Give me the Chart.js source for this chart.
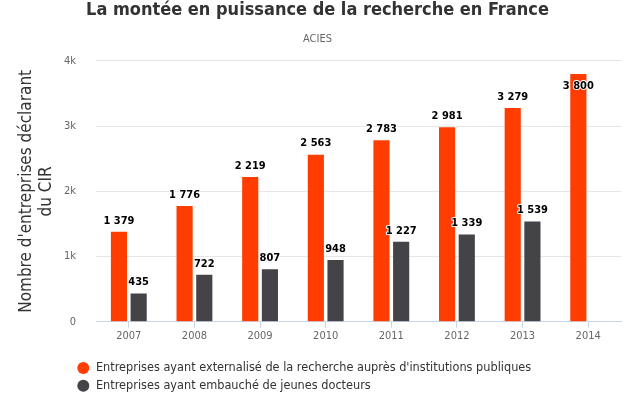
<!DOCTYPE html>
<html><head><meta charset="utf-8">
<script src="https://cdn.jsdelivr.net/npm/chart.js@4/dist/chart.umd.min.js"></script>
<style>html,body{margin:0;padding:0;background:#fff;overflow:hidden}#wrap{width:635px;height:397px;position:relative}</style>
</head><body><div id="wrap"><canvas id="c"></canvas></div>
<script>
const years = ['2007', '2008', '2009', '2010', '2011', '2012', '2013', '2014'];
const externalises = [1379, 1776, 2219, 2563, 2783, 2981, 3279, 3800];
const docteurs = [435, 722, 807, 948, 1227, 1339, 1539, null];
const seriesNames = [
  "Entreprises ayant externalisé de la recherche auprès d'institutions publiques",
  "Entreprises ayant embauché de jeunes docteurs"
];
const yTickLabels = ['0', '1k', '2k', '3k', '4k'];
const titleText = 'La montée en puissance de la recherche en France';
const subtitleText = 'ACIES';
const yTitleLines = ["Nombre d'entreprises déclarant", 'du CIR'];

const FONT = '"DejaVu Sans Condensed", "DejaVu Sans", sans-serif';
const fmt = v => String(v).replace(/\B(?=(\d{3})+(?!\d))/g, ' ');

const dataLabels = {
  id: 'dataLabels',
  afterDatasetsDraw(chart) {
    const ctx = chart.ctx, top = chart.chartArea.top;
    ctx.save();
    ctx.font = 'bold 11px ' + FONT;
    ctx.textAlign = 'center';
    ctx.textBaseline = 'middle';
    ctx.lineJoin = 'round';
    chart.data.datasets.forEach((ds, di) => {
      chart.getDatasetMeta(di).data.forEach((bar, i) => {
        const v = ds.data[i];
        if (v == null) return;
        let y = bar.y - 11;
        if (y - 8 < top) y = bar.y + 12;
        const t = fmt(v);
        ctx.lineWidth = 2; ctx.strokeStyle = '#fff';
        ctx.strokeText(t, bar.x, y);
        ctx.fillStyle = '#000';
        ctx.fillText(t, bar.x, y);
      });
    });
    ctx.restore();
  }
};
const layoutTweak = {
  id: 'layoutTweak',
  afterLayout(chart) {
    const lg = chart.legend;
    lg.left = 72;
    lg.top += 5; lg.bottom += 5;
    chart.boxes.forEach(b => {
      if (b !== lg && b.position === 'top' && !b.axis) { b.left = 0; b.right = chart.width; b.width = chart.width; }
    });
  }
};

new Chart(document.getElementById('c'), {
  type: 'bar',
  data: {
    labels: years,
    datasets: [
      { label: seriesNames[0], data: externalises, backgroundColor: '#ff3d00', borderWidth: 0,
        categoryPercentage: 0.6, barPercentage: 0.82 },
      { label: seriesNames[1], data: docteurs, backgroundColor: '#434348', borderWidth: 0,
        categoryPercentage: 0.6, barPercentage: 0.82 }
    ]
  },
  options: {
    responsive: true, maintainAspectRatio: false, animation: false,
    layout: { padding: { left: 0, right: 14, top: 0, bottom: 0 } },
    plugins: {
      tooltip: { enabled: false },
      title: { display: true, text: titleText, color: '#333333',
        font: { family: FONT, size: 18, weight: 'bold', lineHeight: 1.15 },
        padding: { top: 0, bottom: 12 } },
      subtitle: { display: true, text: subtitleText, color: '#666666',
        font: { family: FONT, size: 11, lineHeight: 1.2 },
        padding: { top: 0, bottom: 15 } },
      legend: { position: 'bottom', align: 'start',
        labels: { usePointStyle: true, pointStyle: 'circle', boxWidth: 13, boxHeight: 8.5,
          padding: 5, color: '#333333', font: { family: FONT, size: 12.6 } } }
    },
    scales: {
      x: {
        offset: true,
        grid: { display: true, offset: false, drawOnChartArea: false, drawTicks: true, tickLength: 6, color: '#ccd6eb' },
        border: { display: true, color: '#ccd6eb', width: 1 },
        ticks: { color: '#666666', padding: 2, font: { family: FONT, size: 11 }, maxRotation: 0, autoSkip: false },
        afterFit(scale) { scale.height = 30; }
      },
      y: {
        min: 0, max: 4000,
        grid: { color: '#e6e6e6', drawTicks: false },
        border: { display: false },
        ticks: { stepSize: 1000, color: '#666666', padding: 20, font: { family: FONT, size: 11 },
          callback: (v, i) => yTickLabels[i] },
        title: { display: true, text: yTitleLines, color: '#333333',
          font: { family: FONT, size: 17, lineHeight: 1.15 }, padding: { top: 17, bottom: 0 } },
        afterFit(scale) { scale.width = 96; }
      }
    }
  },
  plugins: [dataLabels, layoutTweak]
});
</script></body></html>
